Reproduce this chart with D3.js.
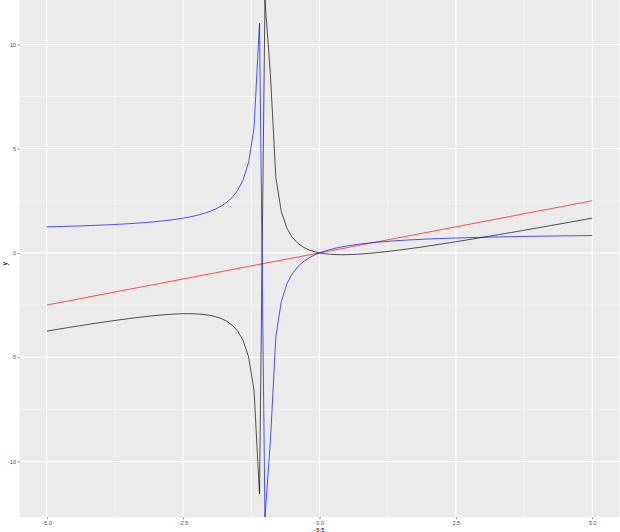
<!DOCTYPE html>
<html><head><meta charset="utf-8">
<script src="https://cdn.jsdelivr.net/npm/d3@7"></script>
<style>html,body{margin:0;padding:0;background:#fff;overflow:hidden}</style>
</head><body>
<svg id="c" width="620" height="532"></svg>
<script>
const xs = [-5.0,-4.9,-4.8,-4.7,-4.6,-4.5,-4.4,-4.3,-4.2,-4.1,-4.0,-3.9,-3.8,-3.7,-3.6,-3.5,-3.4,-3.3,-3.2,-3.1,-3.0,-2.9,-2.8,-2.7,-2.6,-2.5,-2.4,-2.3,-2.2,-2.1,-2.0,-1.9,-1.8,-1.7,-1.6,-1.5,-1.4,-1.3,-1.2,-1.1,-1.0,-0.9,-0.8,-0.7,-0.6,-0.5,-0.4,-0.3,-0.2,-0.1,0.0,0.1,0.2,0.3,0.4,0.5,0.6,0.7,0.8,0.9,1.0,1.1,1.2,1.3,1.4,1.5,1.6,1.7,1.8,1.9,2.0,2.1,2.2,2.3,2.4,2.5,2.6,2.7,2.8,2.9,3.0,3.1,3.2,3.3,3.4,3.5,3.6,3.7,3.8,3.9,4.0,4.1,4.2,4.3,4.4,4.5,4.6,4.7,4.8,4.9,5.0];
const redY = [-2.5,-2.45,-2.4,-2.35,-2.3,-2.25,-2.2,-2.15,-2.1,-2.05,-2.0,-1.95,-1.9,-1.85,-1.8,-1.75,-1.7,-1.65,-1.6,-1.55,-1.5,-1.45,-1.4,-1.35,-1.3,-1.25,-1.2,-1.15,-1.1,-1.05,-1.0,-0.95,-0.9,-0.85,-0.8,-0.75,-0.7,-0.65,-0.6,-0.55,-0.5,-0.45,-0.4,-0.35,-0.3,-0.25,-0.2,-0.15,-0.1,-0.05,0.0,0.05,0.1,0.15,0.2,0.25,0.3,0.35,0.4,0.45,0.5,0.55,0.6,0.65,0.7,0.75,0.8,0.85,0.9,0.95,1.0,1.05,1.1,1.15,1.2,1.25,1.3,1.35,1.4,1.45,1.5,1.55,1.6,1.65,1.7,1.75,1.8,1.85,1.9,1.95,2.0,2.05,2.1,2.15,2.2,2.25,2.3,2.35,2.4,2.45,2.5];
const blueY = [1.25,1.2564,1.2632,1.2703,1.2778,1.2857,1.2941,1.303,1.3125,1.3226,1.3333,1.3448,1.3571,1.3704,1.3846,1.4,1.4167,1.4348,1.4545,1.4762,1.5,1.5263,1.5556,1.5882,1.625,1.6667,1.7143,1.7692,1.8333,1.9091,2.0,2.1111,2.25,2.4286,2.6667,3.0,3.5,4.3333,6.0,11.0,-Infinity,-9.0,-4.0,-2.3333,-1.5,-1.0,-0.6667,-0.4286,-0.25,-0.1111,0.0,0.0909,0.1667,0.2308,0.2857,0.3333,0.375,0.4118,0.4444,0.4737,0.5,0.5238,0.5455,0.5652,0.5833,0.6,0.6154,0.6296,0.6429,0.6552,0.6667,0.6774,0.6875,0.697,0.7059,0.7143,0.7222,0.7297,0.7368,0.7436,0.75,0.7561,0.7619,0.7674,0.7727,0.7778,0.7826,0.7872,0.7917,0.7959,0.8,0.8039,0.8077,0.8113,0.8148,0.8182,0.8214,0.8246,0.8276,0.8305,0.8333];
const blackY = [-3.75,-3.7064,-3.6632,-3.6203,-3.5778,-3.5357,-3.4941,-3.453,-3.4125,-3.3726,-3.3333,-3.2948,-3.2571,-3.2204,-3.1846,-3.15,-3.1167,-3.0848,-3.0545,-3.0262,-3.0,-2.9763,-2.9556,-2.9382,-2.925,-2.9167,-2.9143,-2.9192,-2.9333,-2.9591,-3.0,-3.0611,-3.15,-3.2786,-3.4667,-3.75,-4.2,-4.9833,-6.6,-11.55,Infinity,8.55,3.6,1.9833,1.2,0.75,0.4667,0.2786,0.15,0.0611,0.0,-0.0409,-0.0667,-0.0808,-0.0857,-0.0833,-0.075,-0.0618,-0.0444,-0.0237,0.0,0.0262,0.0545,0.0848,0.1167,0.15,0.1846,0.2204,0.2571,0.2948,0.3333,0.3726,0.4125,0.453,0.4941,0.5357,0.5778,0.6203,0.6632,0.7064,0.75,0.7939,0.8381,0.8826,0.9273,0.9722,1.0174,1.0628,1.1083,1.1541,1.2,1.2461,1.2923,1.3387,1.3852,1.4318,1.4786,1.5254,1.5724,1.6195,1.6667];
const xTicks = [-5.0,-2.5,0.0,2.5,5.0];
const xTickLabels = ["-5.0","-2.5","0.0","2.5","5.0"];
const xMinor = [-3.75,-1.25,1.25,3.75];
const yTicks = [-10,-5,0,5,10];
const yTickLabels = ["-10","-5","0","5","10"];
const yMinor = [-7.5,-2.5,2.5,7.5];
const xTitle = "-5:5", yTitle = "y";

const svg = d3.select("#c");
const P = {l:19.5, r:619.5, t:0, b:517.3};
const finite = blueY.concat(blackY, redY).filter(Number.isFinite);
const yr = d3.extent(finite), ypad = (yr[1]-yr[0])*0.05;
const xr = d3.extent(xs), xpad = (xr[1]-xr[0])*0.05;
const x = d3.scaleLinear().domain([xr[0]-xpad, xr[1]+xpad]).range([P.l, P.r]);
const y = d3.scaleLinear().domain([yr[0]-ypad, yr[1]+ypad]).range([P.b, P.t]);

svg.append("rect").attr("x",P.l).attr("y",P.t).attr("width",P.r-P.l).attr("height",P.b-P.t).attr("fill","#EBEBEB");
const g = svg.append("g");
xMinor.forEach(v=>g.append("line").attr("x1",x(v)).attr("x2",x(v)).attr("y1",P.t).attr("y2",P.b).attr("stroke","#fff").attr("stroke-width",0.5));
yMinor.forEach(v=>g.append("line").attr("y1",y(v)).attr("y2",y(v)).attr("x1",P.l).attr("x2",P.r).attr("stroke","#fff").attr("stroke-width",0.5));
xTicks.forEach(v=>g.append("line").attr("x1",x(v)).attr("x2",x(v)).attr("y1",P.t).attr("y2",P.b).attr("stroke","#fff").attr("stroke-width",1));
yTicks.forEach(v=>g.append("line").attr("y1",y(v)).attr("y2",y(v)).attr("x1",P.l).attr("x2",P.r).attr("stroke","#fff").attr("stroke-width",1));

function yv(v){ if(v===Infinity) return P.t; if(v===-Infinity) return P.b; return y(v); }
const line = d3.line().x(d=>x(d[0])).y(d=>yv(d[1]));
svg.append("clipPath").attr("id","cp").append("rect").attr("x",P.l).attr("y",P.t).attr("width",P.r-P.l).attr("height",P.b-P.t);
const lg = svg.append("g").attr("clip-path","url(#cp)");
[[blackY,"#000"],[redY,"#FF0000"],[blueY,"#0000FF"]].forEach(([ys,c])=>{
  lg.append("path").attr("d",line(xs.map((xv,i)=>[xv,ys[i]]))).attr("fill","none").attr("stroke",c).attr("stroke-width",0.9).attr("stroke-opacity",0.75);
});

const xa = d3.axisBottom(x).tickValues(xTicks).tickFormat((d,i)=>xTickLabels[i]).tickSize(2).tickPadding(1.5);
const xg = svg.append("g").attr("transform",`translate(0,${P.b})`).call(xa);
const ya = d3.axisLeft(y).tickValues(yTicks).tickFormat((d,i)=>yTickLabels[i]).tickSize(2).tickPadding(1.5);
const yg = svg.append("g").attr("transform",`translate(${P.l},0)`).call(ya);
[xg,yg].forEach(a=>{
  a.select(".domain").remove();
  a.selectAll(".tick line").attr("stroke","#333").attr("stroke-width",0.6);
  a.selectAll(".tick text").attr("fill","#4D4D4D").style("font-family","Liberation Sans, Arial, sans-serif").style("font-size","5.5px");
});
svg.append("text").attr("x",(P.l+P.r)/2).attr("y",531.5).attr("text-anchor","middle").attr("fill","#000").style("font-family","Liberation Sans, Arial, sans-serif").style("font-size","6px").text(xTitle);
svg.append("text").attr("transform",`translate(7,${(P.t+P.b)/2+5}) rotate(-90)`).attr("text-anchor","middle").attr("fill","#000").style("font-family","Liberation Sans, Arial, sans-serif").style("font-size","7px").text(yTitle);
</script>
</body></html>
